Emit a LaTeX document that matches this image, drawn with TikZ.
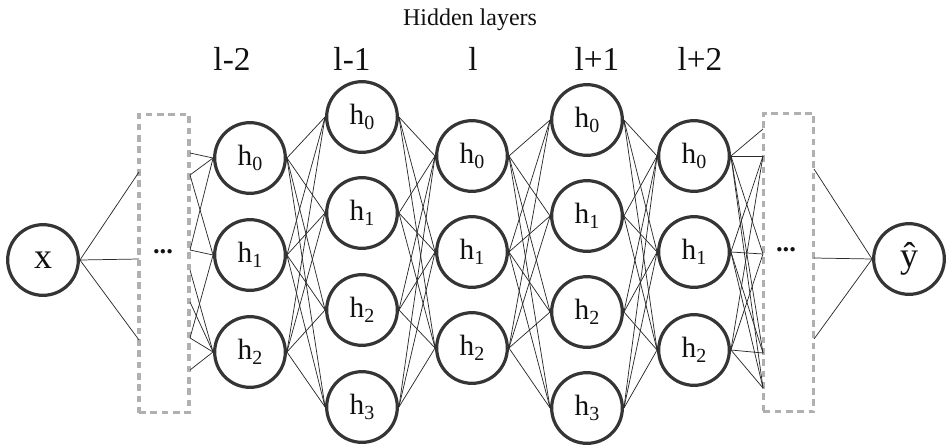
\documentclass[tikz,border=0pt]{standalone}
\usepackage{fontspec}
\setmainfont{Liberation Serif}
\definecolor{ringc}{HTML}{353535}
\definecolor{linec}{HTML}{2A2A2A}
\definecolor{boxc}{HTML}{B0B0B0}
\definecolor{txtc}{HTML}{111111}
\newcommand{\hsub}[1]{h\raisebox{-3.5pt}{\fontsize{15}{15}\selectfont #1}}
\begin{document}
\begin{tikzpicture}[x=0.75pt,y=-0.75pt,
  neuron/.style={circle,draw=ringc,fill=white,line width=2.4pt,minimum size=53pt,inner sep=0pt,
    text=txtc,font=\fontsize{22}{26}\selectfont},
  ionode/.style={neuron,font=\fontsize{27}{30}\selectfont},
  dbox/.style={draw=boxc,line width=2.4pt,dash pattern=on 5pt off 3.5pt,inner sep=0pt},
  link/.style={draw=linec,line width=0.55pt},
  lbl/.style={anchor=base,text=txtc,font=\fontsize{25}{28}\selectfont},
  dotsl/.style={text=txtc,font=\fontsize{20}{22}\selectfont\bfseries},
]
\useasboundingbox (0,0) rectangle (947,447);

% title and layer labels
\node[anchor=base,text=txtc,font=\fontsize{18}{20}\selectfont] (title) at (470,25) {Hidden layers};
\node[lbl] (tA) at (232,70) {l-2};
\node[lbl] (tB) at (352,70) {l-1};
\node[lbl] (tC) at (473,70) {l};
\node[lbl] (tD) at (597,70) {l+1};
\node[lbl] (tE) at (700,70) {l+2};

% dashed boxes
\node[dbox,minimum width=37.5pt,minimum height=224pt] (Lbox) at (164,263.5) {};
\node[dbox,minimum width=38pt,minimum height=224pt] (Rbox) at (788.5,262.5) {};
\node[dotsl] (Ldots) at (163,252) {...};
\node[dotsl] (Rdots) at (786,250) {...};

% input / output
\node[ionode] (x) at (43,260) {x};
\node[ionode] (yh) at (909,259) {ŷ};

% hidden layers
\foreach \i/\yy in {0/158,1/255,2/352} \node[neuron] (A\i) at (250,\yy) {\hsub{\i}};
\foreach \i/\yy in {0/117,1/213,2/310,3/407} \node[neuron] (B\i) at (362,\yy) {\hsub{\i}};
\foreach \i/\yy in {0/156,1/252,2/348} \node[neuron] (C\i) at (472,\yy) {\hsub{\i}};
\foreach \i/\yy in {0/120,1/216,2/312,3/408} \node[neuron] (D\i) at (587,\yy) {\hsub{\i}};
\foreach \i/\yy in {0/156,1/252,2/350} \node[neuron] (E\i) at (694,\yy) {\hsub{\i}};

% connection points on the dashed boxes
\coordinate (li1) at (139,172);
\coordinate (li2) at (139,259);
\coordinate (li3) at (139,340);
\coordinate (lo1) at (190,153);
\coordinate (lo2) at (190,175);
\coordinate (lo3) at (190,250);
\coordinate (lo4) at (190,270);
\coordinate (lo5) at (190,302);
\coordinate (lo6) at (190,338);
\coordinate (lo7) at (190,370);
\coordinate (ri1) at (763,129);
\coordinate (ri2) at (763,156);
\coordinate (ri3) at (763,254);
\coordinate (ri4) at (763,353);
\coordinate (ri5) at (763,388);
\coordinate (ro1) at (814,169);
\coordinate (ro2) at (814,258);
\coordinate (ro3) at (814,339);

% input side
\foreach \k in {1,2,3} \draw[link] (x.east) -- (li\k);
\draw[link] (lo1) -- (A0.west);
\draw[link] (lo2) -- (A0.west);
\draw[link] (lo2) -- (A1.west);
\draw[link] (lo3) -- (A1.west);
\draw[link] (lo3) -- (A0.west);
\draw[link] (lo4) -- (A2.west);
\draw[link] (lo5) -- (A2.west);
\draw[link] (lo6) -- (A1.west);
\draw[link] (lo6) -- (A2.west);
\draw[link] (lo7) -- (A2.west);

% fully connected hidden layers
\foreach \a in {0,1,2} \foreach \b in {0,1,2,3} \draw[link] (A\a.east) -- (B\b.west);
\foreach \a in {0,1,2,3} \foreach \b in {0,1,2} \draw[link] (B\a.east) -- (C\b.west);
\foreach \a in {0,1,2} \foreach \b in {0,1,2,3} \draw[link] (C\a.east) -- (D\b.west);
\foreach \a in {0,1,2,3} \foreach \b in {0,1,2} \draw[link] (D\a.east) -- (E\b.west);

% output side
\foreach \k in {1,2,3,4,5} \draw[link] (E0.east) -- (ri\k);
\foreach \k in {2,3,4,5} \draw[link] (E1.east) -- (ri\k);
\foreach \k in {2,3,4,5} \draw[link] (E2.east) -- (ri\k);
\foreach \k in {1,2,3} \draw[link] (ro\k) -- (yh.west);
\end{tikzpicture}
\end{document}
